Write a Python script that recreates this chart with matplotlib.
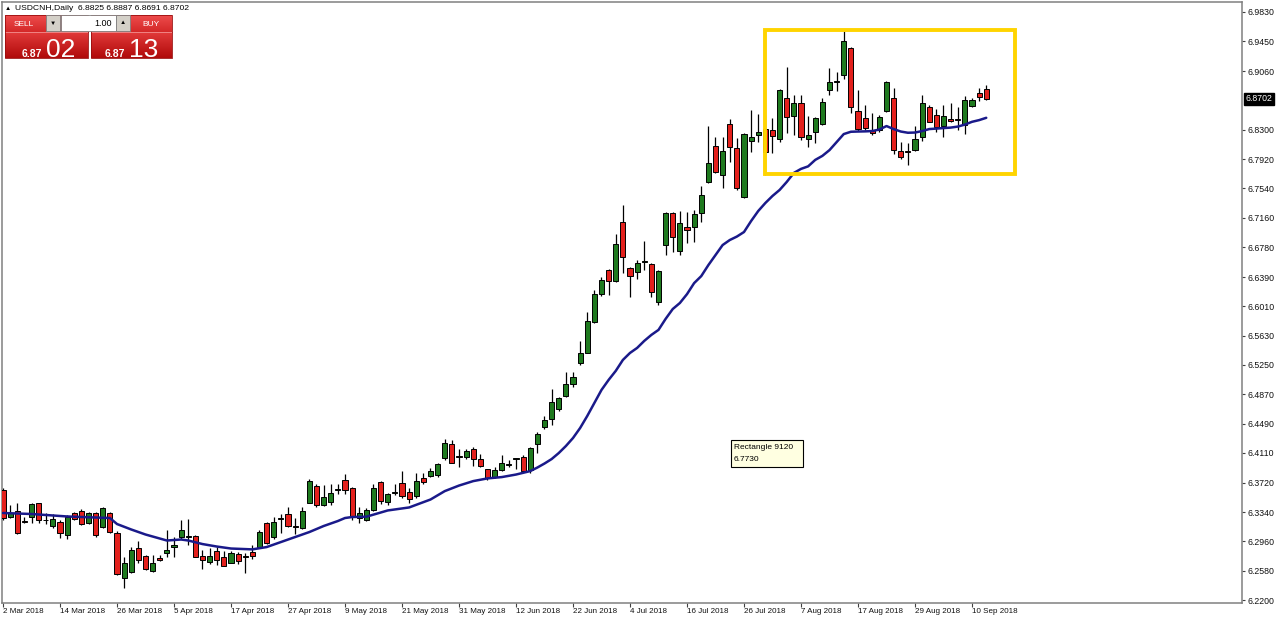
import matplotlib
matplotlib.use("Agg")
import matplotlib.pyplot as plt
from matplotlib.patches import Rectangle
from matplotlib.transforms import blended_transform_factory
import numpy as np

# ---------------- data ----------------
opens = [6.3626, 6.3273, 6.3355, 6.3229, 6.3281, 6.3455, 6.3244, 6.3164, 6.3208, 6.3043,
         6.3325, 6.3355, 6.3195, 6.3333, 6.3143, 6.3333, 6.3065, 6.2480, 6.2566, 6.2870,
         6.2774, 6.2575, 6.2744, 6.2805, 6.2893, 6.3024, 6.3024, 6.3030, 6.2770, 6.2696,
         6.2835, 6.2757, 6.2683, 6.2800, 6.2767, 6.2818, 6.2891, 6.3195, 6.3013, 6.3254,
         6.3312, 6.3154, 6.3130, 6.3463, 6.3678, 6.3433, 6.3476, 6.3626, 6.3756, 6.3656,
         6.3260, 6.3238, 6.3368, 6.3726, 6.3476, 6.3592, 6.3721, 6.3596, 6.3548, 6.3786,
         6.3808, 6.3821, 6.4047, 6.4224, 6.4074, 6.4055, 6.4155, 6.4025, 6.3895, 6.3791,
         6.3882, 6.3958, 6.4034, 6.4060, 6.3890, 6.4221, 6.4441, 6.4545, 6.4675, 6.4845,
         6.5007, 6.5278, 6.5408, 6.5811, 6.6165, 6.6481, 6.6338, 6.7109, 6.6503, 6.6451,
         6.6582, 6.6559, 6.6071, 6.6806, 6.7226, 6.6732, 6.7036, 6.7036, 6.7226, 6.7630,
         6.8090, 6.7713, 6.8376, 6.8060, 6.7423, 6.8159, 6.8233, 6.8307, 6.8298, 6.8177,
         6.8708, 6.8480, 6.8643, 6.8181, 6.8276, 6.8376, 6.8816, 6.8927, 6.9011, 6.9358,
         6.8545, 6.8450, 6.8298, 6.8298, 6.8549, 6.8720, 6.8025, 6.8022, 6.8038, 6.8203,
         6.8599, 6.8493, 6.8350, 6.8441, 6.8444, 6.8363, 6.8610, 6.8773, 6.8825]
highs = [6.3652, 6.3433, 6.3459, 6.3281, 6.3455, 6.3463, 6.3329, 6.3316, 6.3238, 6.3303,
         6.3346, 6.3377, 6.3346, 6.3346, 6.3403, 6.3346, 6.3095, 6.2761, 6.2883, 6.2969,
         6.2783, 6.2783, 6.2783, 6.3108, 6.3017, 6.3232, 6.3247, 6.3043, 6.2855, 6.2881,
         6.2891, 6.2835, 6.2839, 6.2820, 6.2816, 6.2917, 6.3108, 6.3206, 6.3281, 6.3316,
         6.3403, 6.3260, 6.3403, 6.3765, 6.3708, 6.3691, 6.3711, 6.3700, 6.3834, 6.3669,
         6.3411, 6.3390, 6.3704, 6.3743, 6.3583, 6.3704, 6.3873, 6.3648, 6.3851, 6.3843,
         6.3908, 6.3981, 6.4294, 6.4276, 6.4155, 6.4155, 6.4181, 6.4094, 6.3899, 6.3929,
         6.4085, 6.4020, 6.4047, 6.4081, 6.4185, 6.4384, 6.4588, 6.4936, 6.4836, 6.5161,
         6.5161, 6.5564, 6.5940, 6.6221, 6.6386, 6.6490, 6.6949, 6.7326, 6.6516, 6.6611,
         6.6858, 6.6568, 6.6481, 6.7239, 6.7239, 6.7248, 6.7239, 6.7261, 6.7570, 6.8350,
         6.8211, 6.8211, 6.8437, 6.8190, 6.8255, 6.8558, 6.8506, 6.8493, 6.8450, 6.8825,
         6.9119, 6.8751, 6.8751, 6.8480, 6.8471, 6.8720, 6.9098, 6.9054, 6.9583, 6.9371,
         6.8816, 6.8623, 6.8524, 6.8493, 6.8930, 6.8850, 6.8146, 6.8133, 6.8350, 6.8751,
         6.8623, 6.8567, 6.8623, 6.8651, 6.8593, 6.8740, 6.8708, 6.8850, 6.8887]
lows = [6.3238, 6.3264, 6.3056, 6.3195, 6.3203, 6.3203, 6.3186, 6.3130, 6.3000, 6.2987,
        6.3238, 6.3173, 6.3182, 6.3021, 6.3130, 6.3065, 6.2523, 6.2350, 6.2553, 6.2675,
        6.2588, 6.2566, 6.2709, 6.2761, 6.2764, 6.2998, 6.2913, 6.2753, 6.2604, 6.2666,
        6.2653, 6.2637, 6.2675, 6.2663, 6.2556, 6.2727, 6.2874, 6.2930, 6.2991, 6.3069,
        6.3151, 6.3056, 6.3118, 6.3455, 6.3403, 6.3420, 6.3433, 6.3574, 6.3574, 6.3238,
        6.3195, 6.3229, 6.3359, 6.3446, 6.3433, 6.3561, 6.3530, 6.3463, 6.3530, 6.3700,
        6.3791, 6.3799, 6.4016, 6.3973, 6.3929, 6.4034, 6.3938, 6.3929, 6.3756, 6.3778,
        6.3871, 6.3929, 6.3906, 6.3864, 6.3843, 6.4111, 6.4415, 6.4471, 6.4657, 6.4828,
        6.4968, 6.5248, 6.5400, 6.5798, 6.6143, 6.6156, 6.6329, 6.6438, 6.6126, 6.6360,
        6.6481, 6.6134, 6.6028, 6.6676, 6.6719, 6.6676, 6.6828, 6.6849, 6.7109, 6.7617,
        6.7743, 6.7544, 6.7886, 6.7521, 6.7410, 6.8016, 6.8146, 6.7713, 6.7995, 6.8146,
        6.8255, 6.8233, 6.8168, 6.8073, 6.8125, 6.8363, 6.8751, 6.8807, 6.8955, 6.8523,
        6.8285, 6.8298, 6.8233, 6.8276, 6.8536, 6.7986, 6.7917, 6.7843, 6.8029, 6.8159,
        6.8398, 6.8276, 6.8211, 6.8405, 6.8298, 6.8246, 6.8599, 6.8677, 6.8691]
closes = [6.3264, 6.3333, 6.3073, 6.3208, 6.3442, 6.3238, 6.3232, 6.3247, 6.3065, 6.3281,
          6.3247, 6.3186, 6.3333, 6.3039, 6.3390, 6.3078, 6.2532, 6.2683, 6.2848, 6.2718,
          6.2597, 6.2683, 6.2718, 6.2848, 6.2910, 6.3108, 6.3037, 6.2761, 6.2718, 6.2770,
          6.2718, 6.2645, 6.2813, 6.2709, 6.2754, 6.2770, 6.3086, 6.2939, 6.3216, 6.3267,
          6.3160, 6.3141, 6.3358, 6.3743, 6.3437, 6.3531, 6.3585, 6.3646, 6.3626, 6.3281,
          6.3325, 6.3368, 6.3648, 6.3489, 6.3574, 6.3605, 6.3552, 6.3509, 6.3747, 6.3726,
          6.3873, 6.3964, 6.4236, 6.3981, 6.4061, 6.4133, 6.4029, 6.3938, 6.3778, 6.3886,
          6.3977, 6.3971, 6.4044, 6.3877, 6.4168, 6.4351, 6.4536, 6.4766, 6.4815, 6.5003,
          6.5098, 6.5400, 6.5820, 6.6169, 6.6351, 6.6338, 6.6819, 6.6646, 6.6403, 6.6568,
          6.6595, 6.6199, 6.6472, 6.7226, 6.6914, 6.7088, 6.7001, 6.7209, 6.7453, 6.7873,
          6.7756, 6.8025, 6.8081, 6.7544, 6.8246, 6.8211, 6.8276, 6.8016, 6.8220, 6.8816,
          6.8463, 6.8643, 6.8203, 6.8233, 6.8450, 6.8664, 6.8927, 6.8940, 6.9453, 6.8593,
          6.8311, 6.8320, 6.8263, 6.8463, 6.8924, 6.8038, 6.7943, 6.8009, 6.8181, 6.8651,
          6.8405, 6.8333, 6.8480, 6.8415, 6.8431, 6.8688, 6.8688, 6.8729, 6.8702]

# moving average line, read at these bar numbers
ma_bars = [0, 4, 9, 15, 16, 18, 20, 23, 25, 26, 28, 30, 32, 35, 37, 39, 41, 43, 45, 47,
           48, 49, 51, 54, 57, 60, 62, 64, 66, 68, 70, 72, 74, 75, 76, 77, 78, 79, 80, 81,
           82, 83, 84, 85, 86, 87, 88, 89, 90, 91, 92, 93, 94, 95, 96, 97, 98, 99, 100, 101,
           102, 103, 104, 105, 106, 107, 108, 109, 110, 111, 112, 113, 114, 115, 116, 117, 118, 119, 120, 121,
           122, 123, 124, 125, 126, 127, 128, 129, 130, 131, 132, 133, 134, 135, 136, 137, 138]
ma_values = [6.3329, 6.3316, 6.3284, 6.3264, 6.3186, 6.3115, 6.3050, 6.2972, 6.2985, 6.2972,
             6.2926, 6.2894, 6.2868, 6.2857, 6.2887, 6.2952, 6.3017, 6.3082, 6.3160, 6.3225,
             6.3264, 6.3277, 6.3281, 6.3362, 6.3401, 6.3504, 6.3613, 6.3685, 6.3743, 6.3778,
             6.3795, 6.3828, 6.3873, 6.3919, 6.3971, 6.4029, 6.4107, 6.4198, 6.4302, 6.4432,
             6.4588, 6.4757, 6.4926, 6.5056, 6.5173, 6.5315, 6.5406, 6.5471, 6.5562, 6.5640,
             6.5705, 6.5848, 6.5976, 6.6054, 6.6169, 6.6312, 6.6403, 6.6546, 6.6676, 6.6806,
             6.6871, 6.6916, 6.6975, 6.7118, 6.7248, 6.7352, 6.7443, 6.7521, 6.7625, 6.7742,
             6.7794, 6.7827, 6.7911, 6.7963, 6.8038, 6.8142, 6.8246, 6.8276, 6.8279, 6.8281,
             6.8285, 6.8305, 6.8350, 6.8311, 6.8279, 6.8263, 6.8266, 6.8285, 6.8311, 6.8317,
             6.8324, 6.8330, 6.8343, 6.8369, 6.8405, 6.8427, 6.8457]

tick_bars = [0, 8, 16, 24, 32, 40, 48, 56, 64, 72, 80, 88, 96, 104, 112, 120, 128, 136]
tick_labels = ["2 Mar 2018", "14 Mar 2018", "26 Mar 2018", "5 Apr 2018", "17 Apr 2018",
               "27 Apr 2018", "9 May 2018", "21 May 2018", "31 May 2018", "12 Jun 2018",
               "22 Jun 2018", "4 Jul 2018", "16 Jul 2018", "26 Jul 2018", "7 Aug 2018",
               "17 Aug 2018", "29 Aug 2018", "10 Sep 2018"]
price_ticks = [6.9830, 6.9450, 6.9060, 6.8300, 6.7920, 6.7540, 6.7160, 6.6780, 6.6390,
               6.6010, 6.5630, 6.5250, 6.4870, 6.4490, 6.4110, 6.3720, 6.3340, 6.2960,
               6.2580, 6.2200]
last_price = 6.8702
rect_top, rect_bottom = 6.9596, 6.7730
rect_first_bar, rect_last_bar = 106.95, 142.03
rect_name = "Rectangle 9120"
header_text = "USDCNH,Daily  6.8825 6.8887 6.8691 6.8702"
lot_text = "1.00"
sell_small, sell_big = "6.87", "02"
buy_small, buy_big = "6.87", "13"

# ---------------- styling ----------------
FONT = ["Liberation Sans", "DejaVu Sans"]
plt.rcParams["font.family"] = FONT
GREEN = "#1f7a1f"
RED = "#e3201c"
MA_COLOR = "#1a1a8a"
FRAME = "#808080"

W, H = 1280, 621
fig = plt.figure(figsize=(12.8, 6.21), dpi=100)
fig.patch.set_facecolor("white")

ax = fig.add_axes([2 / W, 1 - 603 / H, 1240 / W, 601 / H])
ax.set_xlim(-0.1404, 173.895)
ax.set_ylim(6.21612, 6.99597)

o = np.array(opens); h = np.array(highs); l = np.array(lows); c = np.array(closes)
x = np.arange(len(o))
up = c >= o
ax.vlines(x, l, h, color="black", lw=0.9, zorder=2)
bottoms = np.minimum(o, c)
heights = np.maximum(np.abs(c - o), 0.0002)
ax.bar(x, heights, bottom=bottoms, width=0.72,
       color=np.where(up, GREEN, RED), edgecolor="black", linewidth=0.7, zorder=3)

ax.plot(ma_bars, ma_values, color=MA_COLOR, lw=1.8, zorder=4,
        solid_joinstyle="round", solid_capstyle="round")

ax.add_patch(Rectangle((rect_first_bar, rect_bottom), rect_last_bar - rect_first_bar,
                       rect_top - rect_bottom, fill=False, edgecolor="#ffd400",
                       lw=2.8, zorder=5))

for s in ax.spines.values():
    s.set_color(FRAME)
    s.set_linewidth(1.1)

ax.yaxis.tick_right()
ax.set_yticks(price_ticks)
ax.set_yticklabels([f"{v:.4f}" for v in price_ticks])
ax.tick_params(axis="y", right=True, left=False, direction="out", length=2.5,
               width=0.8, color="#404040", pad=1.5, labelsize=6.3, labelcolor="#111111")
ax.set_xticks(tick_bars)
ax.set_xticklabels(tick_labels, ha="left")
ax.tick_params(axis="x", direction="out", length=3, width=0.8, color="#404040",
               pad=0.8, labelsize=5.8, labelcolor="#111111")

trans = blended_transform_factory(ax.transAxes, ax.transData)
ax.text(1.0028, last_price, f"{last_price:.4f}", transform=trans, ha="left",
        va="center", fontsize=6.3, color="white", clip_on=False, zorder=10,
        bbox=dict(boxstyle="square,pad=0.18", fc="black", ec="black"))

# ---------------- overlay in pixel coordinates ----------------
ov = fig.add_axes([0, 0, 1, 1], zorder=10)
ov.set_xlim(0, W)
ov.set_ylim(H, 0)
ov.axis("off")

# tooltip
ov.add_patch(Rectangle((731, 440), 72, 27, fc="#ffffe1", ec="black", lw=0.8))
ov.text(734, 447.5, rect_name, fontsize=6, va="center", ha="left", color="black")
ov.text(734, 459.5, f"{rect_bottom:.4f}", fontsize=6, va="center", ha="left", color="black")

# header
ov.text(5, 8, "▲", fontsize=4.5, va="center", ha="left", color="black", family=FONT)
ov.text(15, 8.5, header_text, fontsize=6.1, va="center", ha="left", color="black")


def grad_box(x0, x1, y0, y1, top, bottom):
    t = np.array(matplotlib.colors.to_rgb(top))
    b = np.array(matplotlib.colors.to_rgb(bottom))
    n = 64
    arr = np.array([t + (b - t) * k / (n - 1) for k in range(n)]).reshape(n, 1, 3)
    ov.imshow(arr, extent=(x0, x1, y1, y0), origin="upper", aspect="auto",
              interpolation="bilinear", zorder=1)


for bx0, bx1 in [(5, 88), (91, 172)]:
    grad_box(bx0, bx1, 15, 32, "#ee4d4d", "#d42828")
    grad_box(bx0, bx1, 32, 58, "#e23a3a", "#b00a0a")
    ov.plot([bx0, bx1], [32, 32], color="#f29090", lw=0.6, zorder=2)
    ov.add_patch(Rectangle((bx0, 15), bx1 - bx0, 43, fill=False, ec="#9a0d0d", lw=0.6, zorder=2))

# lot spinner
ov.add_patch(Rectangle((61, 15), 55, 16, fc="white", ec="#808080", lw=0.6, zorder=3))
for bx in (46, 116):
    ov.add_patch(Rectangle((bx, 15), 14, 16, fc="#d4d0c8", ec="#808080", lw=0.6, zorder=3))
ov.text(53, 23, "▼", fontsize=4.5, ha="center", va="center", color="black", zorder=4, family=FONT)
ov.text(123, 23, "▲", fontsize=4.5, ha="center", va="center", color="black", zorder=4, family=FONT)
ov.text(112, 23.5, lot_text, fontsize=6.5, ha="right", va="center", color="black", zorder=4)

ov.text(14, 24.5, "SELL", fontsize=6, ha="left", va="center", color="white", zorder=4)
ov.text(142, 24.5, "BUY", fontsize=6, ha="left", va="center", color="white", zorder=4)
ov.text(22, 57, sell_small, fontsize=7.5, weight="bold", ha="left", va="baseline", color="white", zorder=4)
ov.text(46, 57, sell_big, fontsize=19, ha="left", va="baseline", color="white", zorder=4)
ov.text(105, 57, buy_small, fontsize=7.5, weight="bold", ha="left", va="baseline", color="white", zorder=4)
ov.text(129, 57, buy_big, fontsize=19, ha="left", va="baseline", color="white", zorder=4)
ov.set_xlim(0, W)
ov.set_ylim(H, 0)

fig.savefig("out.png", dpi=100, facecolor="white")
